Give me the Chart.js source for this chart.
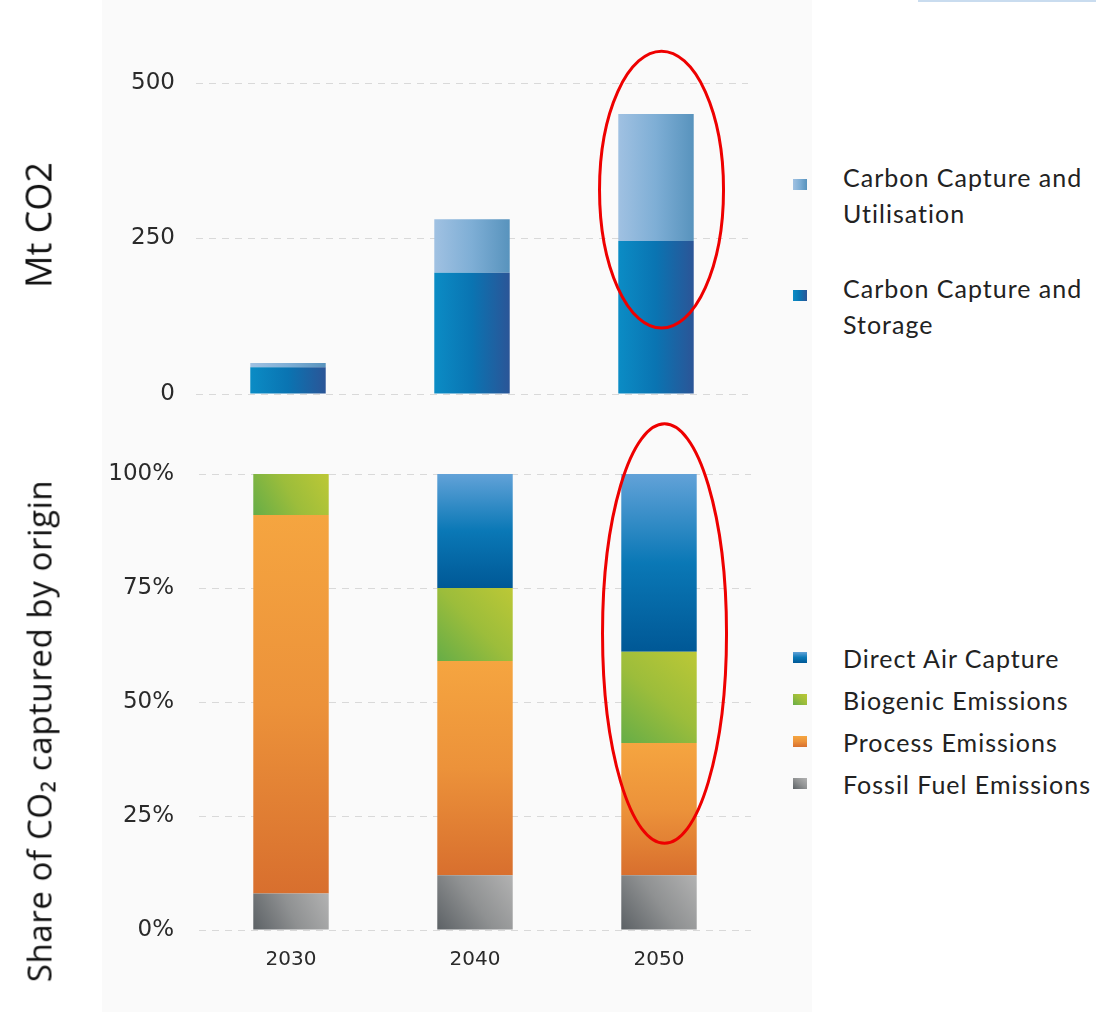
<!DOCTYPE html>
<html>
<head>
<meta charset="utf-8">
<script src="https://cdn.jsdelivr.net/npm/chart.js@4.4.0/dist/chart.umd.min.js"></script>
<style>
  html, body { margin: 0; padding: 0; background: #fff; }
  body { width: 1096px; height: 1012px; position: relative; overflow: hidden; font-family: Lato, "Open Sans", sans-serif; }
  .panel { position: absolute; left: 102px; top: 0; width: 710px; height: 1012px; background: #fafafa; }
  .topline { position: absolute; left: 918px; top: 0; width: 178px; height: 2px; background: #c9dcef; }
  canvas { position: absolute; left: 0; }
  #top-chart { top: 0; }
  #share-chart { top: 420px; }
  .axis-title { position: absolute; white-space: nowrap; color: #111; font-family: "Open Sans", sans-serif;
    transform: translate(-50%, -50%) rotate(-90deg); }
  .legend { position: absolute; left: 793px; color: #222; font-size: 25px; letter-spacing: 1px; }
  .legend .item { position: relative; padding-left: 50px; }
  .legend .swatch { position: absolute; left: 0; width: 14px; height: 11px; }
</style>
</head>
<body>
<div class="panel"></div>
<div class="topline"></div>
<canvas id="top-chart" width="780" height="430"></canvas>
<canvas id="share-chart" width="780" height="592"></canvas>
<div class="axis-title" style="left:38px;top:225px;font-size:36px">Mt CO2</div>
<div class="axis-title" style="left:39px;top:731px;font-size:33px;letter-spacing:0.6px">Share of CO₂ captured by origin</div>
<div class="legend" id="top-legend" style="top:159px"></div>
<div class="legend" id="share-legend" style="top:637px"></div>

<script>
// values
const years = ["2030", "2040", "2050"];
const ccsValues = [43, 195, 246];
const ccuValues = [7, 86, 204];
const fossilShare = [8, 12, 12];
const processShare = [83, 47, 29];
const biogenicShare = [9, 16, 20];
const dacShare = [0, 25, 39];
const mtTicks = [0, 250, 500];
const shareTicks = [0, 25, 50, 75, 100];

// red ellipses around the 2050 bars (category index, value range)
const highlightTop = { at: 2.03, range: [106, 551] };
const highlightShare = { at: 2.03, range: [19, 111] };

const BAR_PCT = 0.41;

// gradient shades per series
const shades = {
  ccs: { dir: "h", stops: ["#0b8cc5", "#0a74b2", "#2b5597"] },
  ccu: { dir: "h", stops: ["#a0c1e2", "#7eaed5", "#5893bd"] },
  dac: { dir: "v", stops: ["#62a2d8", "#0a78b6", "#005896"] },
  bio: { dir: "d", stops: ["#bcc836", "#9cbd3b", "#66ad47"] },
  process: { dir: "v", stops: ["#f5a540", "#ec923a", "#d86f2e"] },
  fossil: { dir: "d", stops: ["#b2b2b2", "#8f9192", "#5c6165"] },
};

function segmentBox(chart, di, i) {
  const sets = chart.data.datasets;
  let start = 0;
  for (let k = 0; k < di; k++) start += sets[k].data[i];
  const end = start + sets[di].data[i];
  const x = chart.scales.x;
  const y = chart.scales.y;
  const cx = x.getPixelForValue(i);
  const half = (x.width / chart.data.labels.length) * BAR_PCT / 2;
  return { left: cx - half, right: cx + half, top: y.getPixelForValue(end), bottom: y.getPixelForValue(start) };
}

function shadeFill(shade) {
  return (ctx) => {
    const chart = ctx.chart;
    if (ctx.type !== "data" || !chart.chartArea || !chart.scales.y) return shade.stops[1];
    const b = segmentBox(chart, ctx.datasetIndex, ctx.dataIndex);
    let g;
    if (shade.dir === "h") g = chart.ctx.createLinearGradient(b.left, 0, b.right, 0);
    else if (shade.dir === "v") g = chart.ctx.createLinearGradient(0, b.top, 0, b.bottom);
    else g = chart.ctx.createLinearGradient(b.right, b.top, b.left, b.bottom);
    shade.stops.forEach((c, k) => g.addColorStop(k / (shade.stops.length - 1), c));
    return g;
  };
}

function cssShade(shade) {
  const dir = shade.dir === "h" ? "to right" : shade.dir === "v" ? "to bottom" : "to bottom left";
  return `linear-gradient(${dir}, ${shade.stops.join(", ")})`;
}

const highlightPlugin = {
  id: "highlight",
  afterDatasetsDraw(chart, args, opts) {
    const { x, y } = chart.scales;
    const ctx = chart.ctx;
    const cx = x.getPixelForValue(opts.at);
    const top = y.getPixelForValue(opts.range[1]);
    const bottom = y.getPixelForValue(opts.range[0]);
    ctx.save();
    ctx.beginPath();
    ctx.ellipse(cx, (top + bottom) / 2, opts.rx, (bottom - top) / 2, 0, 0, Math.PI * 2);
    ctx.strokeStyle = "#ee0000";
    ctx.lineWidth = 3;
    ctx.stroke();
    ctx.restore();
  },
};

function makeDataset(label, data, shade) {
  return {
    label,
    data,
    backgroundColor: shadeFill(shade),
    borderWidth: 0,
    barPercentage: BAR_PCT,
    categoryPercentage: 1,
  };
}

const gridStyle = { color: "#d9d9d9", lineWidth: 1, drawTicks: false };
const tickFont = { family: "DejaVu Sans", size: 23 };

function buildOptions(cfg) {
  return {
    responsive: false,
    animation: false,
    events: [],
    layout: { padding: cfg.padding },
    plugins: {
      legend: { display: false },
      tooltip: { enabled: false },
      highlight: { at: cfg.highlight.at, range: cfg.highlight.range, rx: 62 },
    },
    scales: {
      x: {
        stacked: true,
        grid: { display: false, drawTicks: false },
        border: { display: false },
        ticks: { display: cfg.showX, color: "#2a2a2a", font: { family: "DejaVu Sans", size: 20 }, padding: 18 },
        afterFit: (scale) => { scale.height = cfg.xHeight; },
      },
      y: {
        stacked: true,
        min: 0,
        max: cfg.max,
        grid: gridStyle,
        border: { display: false, dash: [7, 6] },
        ticks: { color: "#2a2a2a", font: tickFont, padding: cfg.tickPad, callback: cfg.format },
        afterBuildTicks: (scale) => { scale.ticks = cfg.ticks.map((v) => ({ value: v })); },
        afterFit: (scale) => { scale.width = cfg.axisWidth; },
      },
    },
  };
}

new Chart(document.getElementById("top-chart"), {
  type: "bar",
  data: {
    labels: years,
    datasets: [
      makeDataset("Carbon Capture and Storage", ccsValues, shades.ccs),
      makeDataset("Carbon Capture and Utilisation", ccuValues, shades.ccu),
    ],
  },
  options: buildOptions({
    padding: { top: 83, bottom: 36, right: 32, left: 0 },
    showX: false, xHeight: 0, max: 500, ticks: mtTicks, axisWidth: 196, tickPad: 21,
    format: (v) => String(v), highlight: highlightTop,
  }),
  plugins: [highlightPlugin],
});

new Chart(document.getElementById("share-chart"), {
  type: "bar",
  data: {
    labels: years,
    datasets: [
      makeDataset("Fossil Fuel Emissions", fossilShare, shades.fossil),
      makeDataset("Process Emissions", processShare, shades.process),
      makeDataset("Biogenic Emissions", biogenicShare, shades.bio),
      makeDataset("Direct Air Capture", dacShare, shades.dac),
    ],
  },
  options: buildOptions({
    padding: { top: 54, bottom: 42, right: 29, left: 0 },
    showX: true, xHeight: 40, max: 100, ticks: shareTicks, axisWidth: 199, tickPad: 25,
    format: (v) => v + "%", highlight: highlightShare,
  }),
  plugins: [highlightPlugin],
});

// legends (drawn in html, top of list = top of stack)
const topLegend = [
  { lines: ["Carbon Capture and", "Utilisation"], shade: shades.ccu },
  { lines: ["Carbon Capture and", "Storage"], shade: shades.ccs },
];
const shareLegend = [
  { lines: ["Direct Air Capture"], shade: shades.dac },
  { lines: ["Biogenic Emissions"], shade: shades.bio },
  { lines: ["Process Emissions"], shade: shades.process },
  { lines: ["Fossil Fuel Emissions"], shade: shades.fossil },
];

function renderLegend(id, items, lineHeight, gap, swatchTop) {
  const box = document.getElementById(id);
  items.forEach((it) => {
    const item = document.createElement("div");
    item.className = "item";
    item.style.lineHeight = lineHeight + "px";
    item.style.marginBottom = gap + "px";
    const sw = document.createElement("div");
    sw.className = "swatch";
    sw.style.top = swatchTop + "px";
    sw.style.background = cssShade(it.shade);
    item.append(sw);
    it.lines.forEach((l) => {
      const line = document.createElement("div");
      line.textContent = l;
      item.append(line);
    });
    box.append(item);
  });
}

renderLegend("top-legend", topLegend, 36, 39, 20);
renderLegend("share-legend", shareLegend, 42, 0, 15);
</script>
</body>
</html>
